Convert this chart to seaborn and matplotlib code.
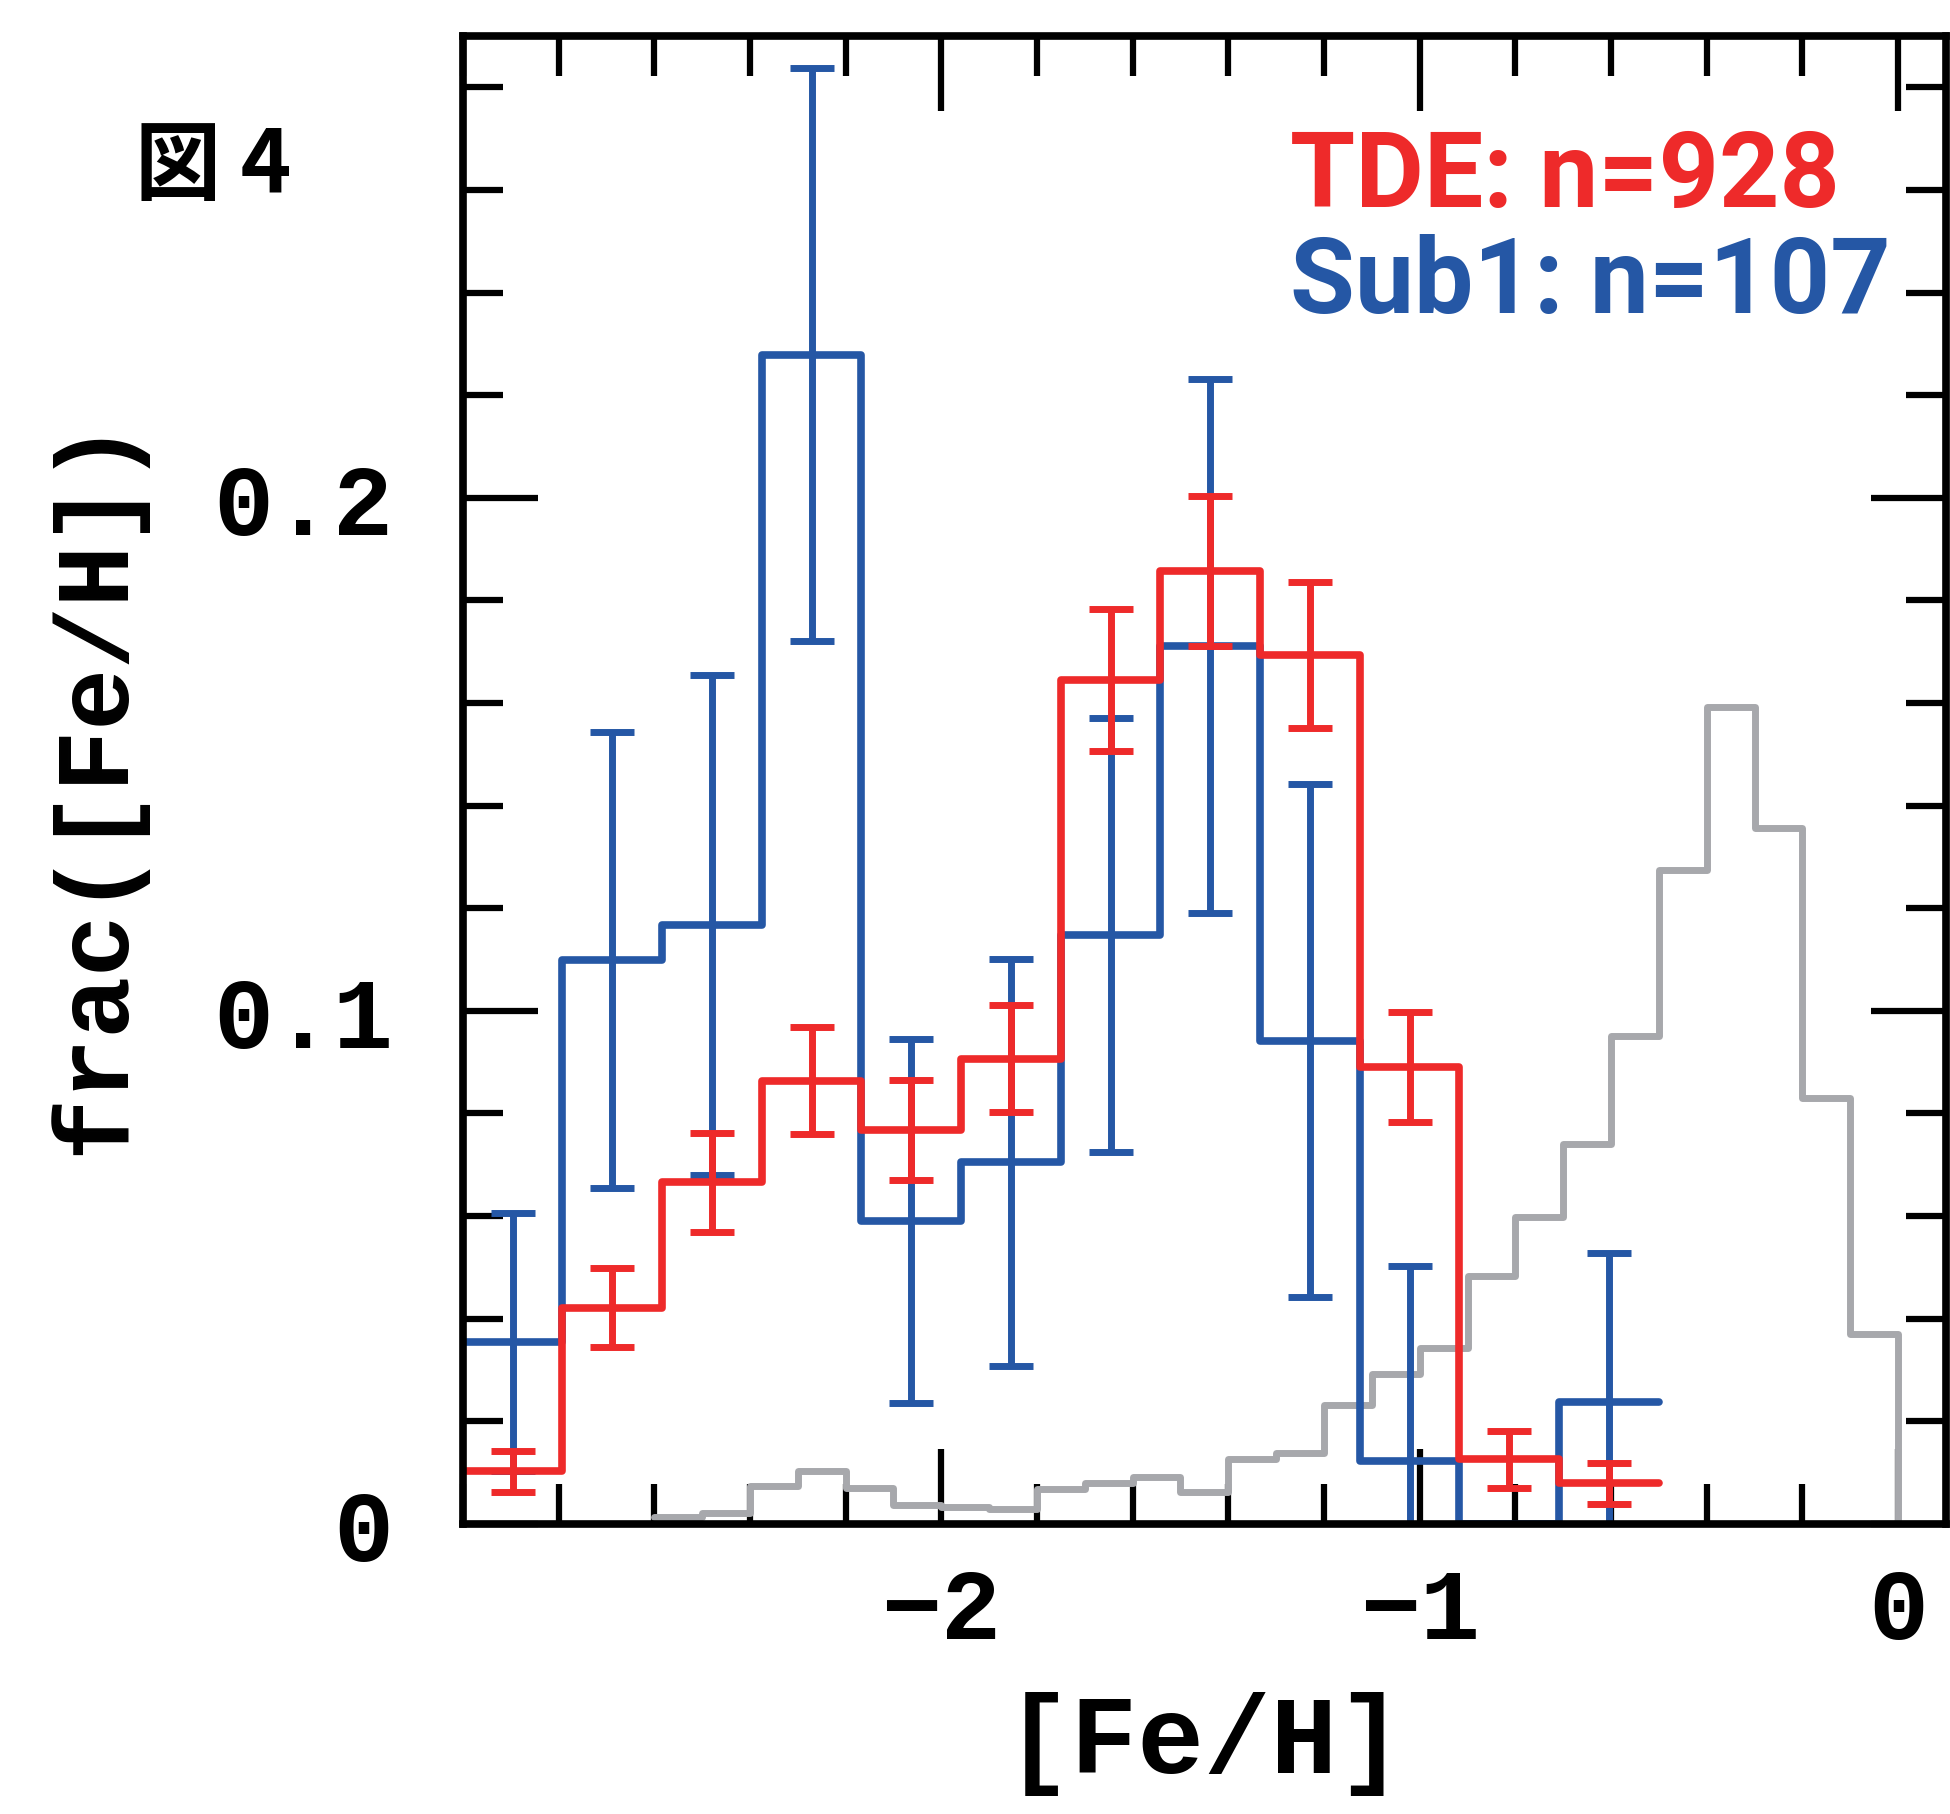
import numpy as np
import seaborn as sns
import matplotlib.pyplot as plt
from matplotlib.ticker import MultipleLocator

# [Fe/H] bins for the two samples (12 bins from -3.0 to -0.5)
bin_edges = [-3.0, -2.792, -2.583, -2.375, -2.167, -1.958, -1.75,
             -1.542, -1.333, -1.125, -0.917, -0.708, -0.5]

# TDE sample, n=928
tde_frac = [0.0103, 0.0421, 0.0666, 0.0864, 0.0768, 0.0907,
            0.1645, 0.1858, 0.1694, 0.0891, 0.0126, 0.0079]
tde_err = [0.0040, 0.0077, 0.0096, 0.0104, 0.0097, 0.0105,
           0.0138, 0.0146, 0.0142, 0.0107, 0.0056, 0.0040]

# Sub1 sample, n=107
sub1_frac = [0.0355, 0.1099, 0.1167, 0.2279, 0.0591, 0.0705,
             0.1147, 0.1711, 0.0942, 0.0123, 0.0, 0.0237]
sub1_err = [0.0252, 0.0444, 0.0487, 0.0558, 0.0355, 0.0397,
            0.0423, 0.0520, 0.0500, 0.0379, 0.0, 0.0291]

# grey reference distribution, 0.1 dex bins
bg_edges = [-2.6, -2.5, -2.4, -2.3, -2.2, -2.1, -2.0, -1.9, -1.8, -1.7,
            -1.6, -1.5, -1.4, -1.3, -1.2, -1.1, -1.0, -0.9, -0.8, -0.7,
            -0.6, -0.5, -0.4, -0.3, -0.2, -0.1, 0.0, 0.1]
bg_frac = [0.0013, 0.0021, 0.0074, 0.0103, 0.0071, 0.0036, 0.0033, 0.0030,
           0.0068, 0.0079, 0.0091, 0.0063, 0.0126, 0.0139, 0.0232, 0.0292,
           0.0342, 0.0484, 0.0599, 0.0741, 0.0951, 0.1274, 0.1593, 0.1356,
           0.0831, 0.0371, 0.0]

xtick_vals = [-2, -1, 0]
xtick_labels = ['\u22122', '\u22121', '0']
ytick_vals = [0, 0.1, 0.2]
ytick_labels = ['0', '0.1', '0.2']

RED = '#EE2A2A'
BLUE = '#2557A5'
GREY = '#A7A8AC'

sns.set_style('ticks')
plt.rcParams['font.family'] = ['Liberation Mono', 'DejaVu Sans']
plt.rcParams['text.color'] = 'black'
plt.rcParams['axes.labelcolor'] = 'black'
plt.rcParams['xtick.color'] = 'black'
plt.rcParams['ytick.color'] = 'black'

fig = plt.figure(figsize=(19.5, 18.15), dpi=100)
ax = fig.add_axes([0.2374, 0.1598, 0.7605, 0.8198])


def centers(edges):
    e = np.asarray(edges)
    return (e[:-1] + e[1:]) / 2


bg_c = centers(bg_edges)
c = centers(bin_edges)

sns.histplot(x=bg_c, weights=bg_frac, bins=bg_edges, element='step', fill=False,
             color=GREY, linewidth=5.0, ax=ax, zorder=2)
sns.histplot(x=c, weights=sub1_frac, bins=bin_edges, element='step', fill=False,
             color=BLUE, linewidth=5.5, ax=ax, zorder=3)
sns.histplot(x=c, weights=tde_frac, bins=bin_edges, element='step', fill=False,
             color=RED, linewidth=5.5, ax=ax, zorder=4)

# error bars (skip empty bins)
sub1_err = np.array(sub1_err)
m = sub1_err > 0
ax.errorbar(c[m], np.array(sub1_frac)[m], yerr=sub1_err[m], fmt='none',
            ecolor=BLUE, elinewidth=5.0, capsize=16, capthick=5.0, zorder=3)
ax.errorbar(c, tde_frac, yerr=tde_err, fmt='none',
            ecolor=RED, elinewidth=5.0, capsize=16, capthick=5.0, zorder=4)

ax.set_xlim(-3.0, 0.1)
ax.set_ylim(0, 0.29)

ax.set_xticks(xtick_vals)
ax.set_xticklabels(xtick_labels)
ax.set_yticks(ytick_vals)
ax.set_yticklabels(ytick_labels)
ax.xaxis.set_minor_locator(MultipleLocator(0.2))
ax.yaxis.set_minor_locator(MultipleLocator(0.02))

for s in ax.spines.values():
    s.set_linewidth(5.5)
    s.set_color('black')
    s.set_zorder(6)

ax.tick_params(which='both', direction='in', top=True, right=True,
               width=4.5, color='black', labelcolor='black')
ax.tick_params(which='major', length=54)
ax.tick_params(which='minor', length=29)
ax.tick_params(axis='x', which='major', pad=30)
ax.tick_params(axis='y', which='major', pad=50)
for lab in ax.get_xticklabels() + ax.get_yticklabels():
    lab.set_fontsize(72)
    lab.set_fontweight('bold')

ax.set_xlabel('[Fe/H]', fontsize=80, fontweight='bold', color='black')
ax.set_ylabel('frac([Fe/H])', fontsize=74, fontweight='bold', color='black')
ax.xaxis.set_label_coords(0.5, -0.112)
ax.yaxis.set_label_coords(-0.214, 0.497)

ax.text(0.558, 0.905, 'TDE: n=928', transform=ax.transAxes, color=RED,
        fontsize=76, fontweight='bold', family='Roboto', va='center', ha='left')
ax.text(0.558, 0.834, 'Sub1: n=107', transform=ax.transAxes, color=BLUE,
        fontsize=76, fontweight='bold', family='Roboto', va='center', ha='left')

fig.text(0.069, 0.9075, '図 4', fontsize=62, fontweight='bold', color='black',
         family=['Noto Sans CJK JP', 'DejaVu Sans'], va='center', ha='left')

fig.savefig('out.png', dpi=100)
